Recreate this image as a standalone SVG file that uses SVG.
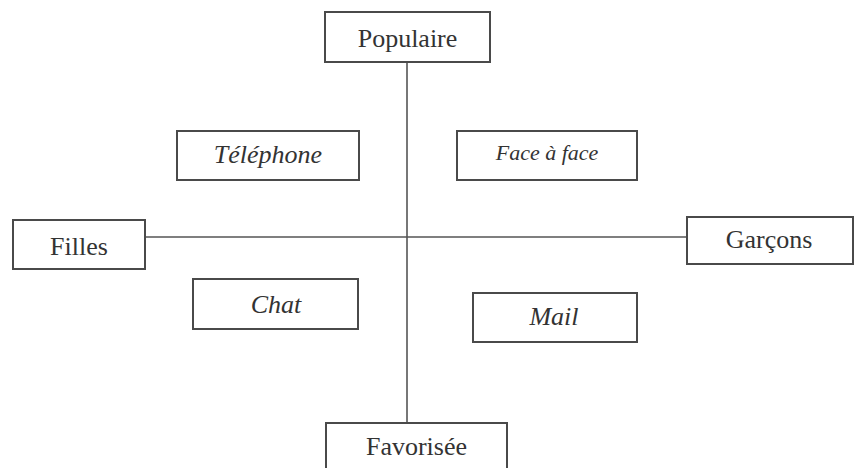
<svg xmlns="http://www.w3.org/2000/svg" width="856" height="468" viewBox="0 0 856 468">
  <style>
    .box { fill: #ffffff; stroke: #4a4a4a; stroke-width: 2; }
    .axis { stroke: #555555; stroke-width: 1.6; fill: none; }
    .lbl { font-family: "Liberation Serif", "Times New Roman", serif; font-size: 26px; fill: #333333; text-anchor: middle; }
    .it { font-style: italic; }
  </style>
  <rect width="856" height="468" fill="#ffffff"/>

  <!-- axes -->
  <g id="connectors">
    <line class="axis" x1="407" y1="62" x2="407" y2="423"/>
    <line class="axis" x1="145" y1="237" x2="687" y2="237"/>
  </g>

  <g id="populaire">
    <rect class="box" x="325" y="12" width="165" height="50"/>
    <text class="lbl" x="407.5" y="47">Populaire</text>
  </g>
  <g id="favorisee">
    <rect class="box" x="326" y="423" width="181" height="60"/>
    <text class="lbl" x="416.5" y="455">Favorisée</text>
  </g>
  <g id="filles">
    <rect class="box" x="13" y="220" width="132" height="49"/>
    <text class="lbl" x="79" y="255">Filles</text>
  </g>
  <g id="garcons">
    <rect class="box" x="687" y="217" width="166" height="47"/>
    <text class="lbl" x="769" y="248">Garçons</text>
  </g>
  <g id="telephone">
    <rect class="box" x="177" y="131" width="182" height="49"/>
    <text class="lbl it" x="268" y="163">Téléphone</text>
  </g>
  <g id="face-a-face">
    <rect class="box" x="457" y="131" width="180" height="49"/>
    <text class="lbl it" x="547" y="160" style="font-size:22px">Face à face</text>
  </g>
  <g id="chat">
    <rect class="box" x="193" y="279" width="165" height="50"/>
    <text class="lbl it" x="276" y="313">Chat</text>
  </g>
  <g id="mail">
    <rect class="box" x="473" y="293" width="164" height="49"/>
    <text class="lbl it" x="554" y="325">Mail</text>
  </g>
</svg>
